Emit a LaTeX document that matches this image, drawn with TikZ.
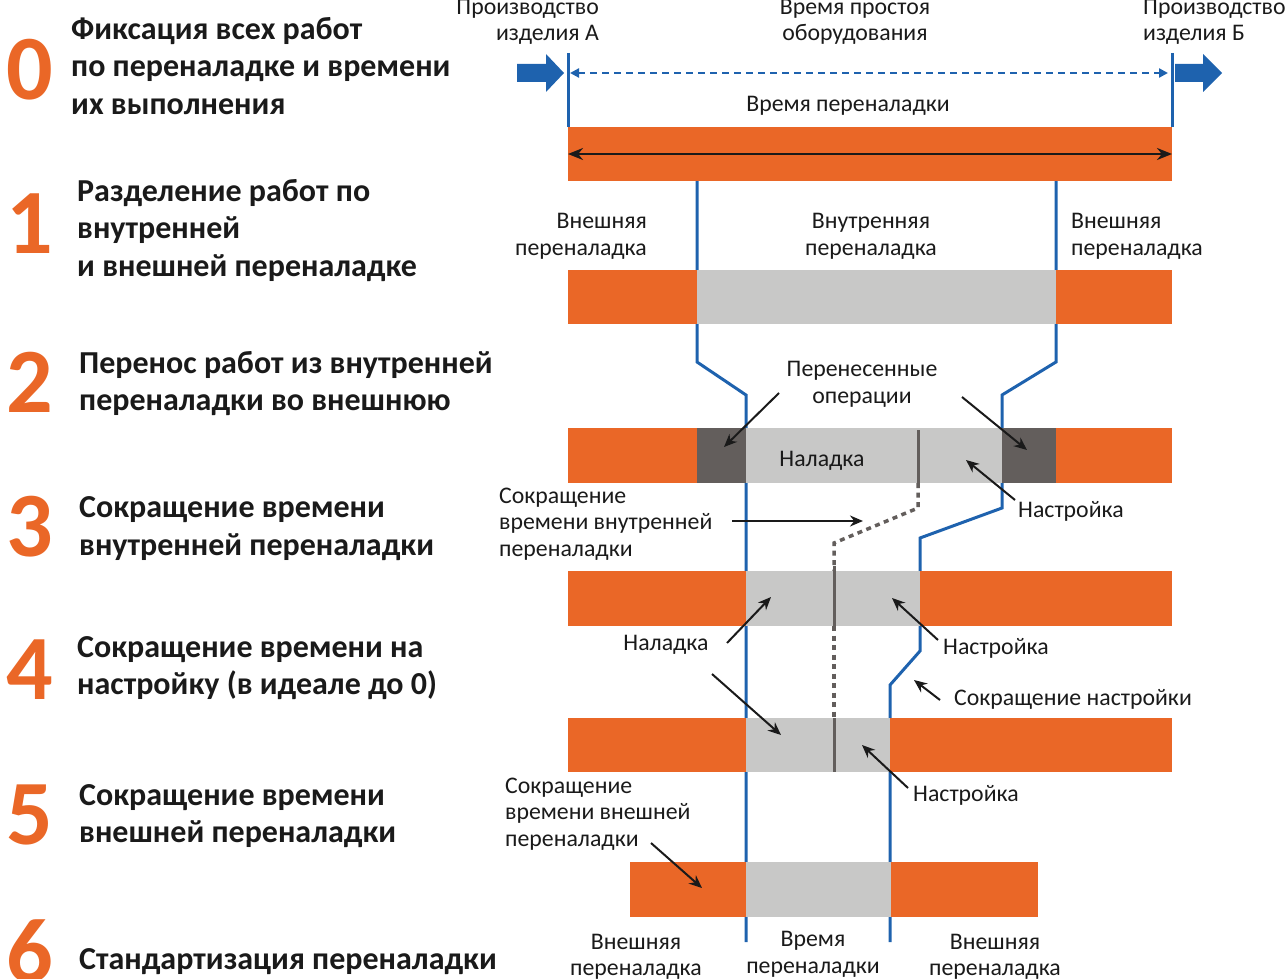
\documentclass[tikz,border=0pt]{standalone}
\usepackage{fontspec}
\setmainfont{Carlito}
\usetikzlibrary{arrows.meta}
\definecolor{org}{RGB}{234,103,39}
\definecolor{lgr}{RGB}{200,200,199}
\definecolor{dgr}{RGB}{99,94,92}
\definecolor{blu}{RGB}{30,98,174}
\definecolor{txt}{RGB}{26,26,26}
\begin{document}
\begin{tikzpicture}[x=1pt,y=-1pt,
  lbl/.style={font=\fontsize{23.8}{26.5}\selectfont, align=center, inner sep=0, text=txt},
  lbll/.style={lbl, align=left, anchor=west},
  lblr/.style={lbl, align=right, anchor=east},
  steptxt/.style={font=\fontsize{32}{37.5}\selectfont\bfseries, align=left, anchor=west, inner sep=0, text=txt},
  num/.style={font=\fontsize{92}{92}\selectfont\bfseries, text=org, inner sep=0},
  bline/.style={draw=blu, line width=3pt},
  ptr/.style={-{Stealth[length=13pt,width=11pt]}, line width=2pt, draw=txt},
  dotl/.style={draw=dgr, line width=3.5pt, dash pattern=on 5pt off 4.5pt},
  barO/.style={fill=org},
  barL/.style={fill=lgr},
  barD/.style={fill=dgr}]
\useasboundingbox (0,0) rectangle (1288,979);

% ---------- steps ----------
\node[num] (n0) at (30,70) {0};
\node[num] (n1) at (30,224) {1};
\node[num] (n2) at (30,382) {2};
\node[num] (n3) at (30,527) {3};
\node[num] (n4) at (30,670) {4};
\node[num] (n5) at (30,815) {5};
\node[num] (n6) at (30,951) {6};
\node[steptxt] (s0) at (71,66) {Фиксация всех работ\\по переналадке и времени\\их выполнения};
\node[steptxt] (s1) at (77,230.5) {Разделение работ по\\внутренней\\и внешней переналадке};
\node[steptxt] (s2) at (79,383.5) {Перенос работ из внутренней\\переналадки во внешнюю};
\node[steptxt] (s3) at (79,528.5) {Сокращение времени\\внутренней переналадки};
\node[steptxt] (s4) at (77,668) {Сокращение времени на\\настройку (в идеале до 0)};
\node[steptxt] (s5) at (79,816) {Сокращение времени\\внешней переналадки};
\node[steptxt] (s6) at (79,962) {Стандартизация переналадки};

% ---------- top ----------
\node[lblr] (prodA) at (599,22) {Производство\\изделия А};
\node[lbl] (idle) at (855,22) {Время простоя\\оборудования};
\node[lbll] (prodB) at (1143,22) {Производство\\изделия Б};
\node[lbl] (chtime) at (848,106) {Время переналадки};

\fill[blu] (517,64) -- (546,64) -- (546,54) -- (564,73) -- (546,92) -- (546,82) -- (517,82) -- cycle;
\fill[blu] (1175,64) -- (1203,64) -- (1203,54) -- (1222,73) -- (1203,92) -- (1203,82) -- (1175,82) -- cycle;
\coordinate (tl) at (568,53);
\coordinate (tr) at (1172,53);
\coordinate (tlb) at (568,127);
\coordinate (trb) at (1172,127);
\draw[bline] (tl) -- (tlb);
\draw[bline] (tr) -- (trb);
\coordinate (da) at (570,73);
\coordinate (db) at (1168,73);
\draw[draw=blu, line width=2.2pt, dash pattern=on 7pt off 5pt, {Triangle[length=9pt,width=9pt]}-{Triangle[length=9pt,width=9pt]}] (da) -- (db);

% ---------- blue boundary lines (behind bars) ----------
\coordinate (l0) at (697,181);
\coordinate (l1) at (697,362);
\coordinate (l2) at (746,395);
\coordinate (l3) at (746,942);
\draw[bline, line join=miter] (l0) -- (l1) -- (l2) -- (l3);
\coordinate (r0) at (1056,181);
\coordinate (r1) at (1056,362);
\coordinate (r2) at (1002,395);
\coordinate (r3) at (1002,508);
\coordinate (r4) at (920,538);
\coordinate (r5) at (920,651);
\coordinate (r6) at (890,685);
\coordinate (r7) at (890,942);
\draw[bline, line join=miter] (r0) -- (r1) -- (r2) -- (r3) -- (r4) -- (r5) -- (r6) -- (r7);

% ---------- dotted line ----------
\coordinate (d0) at (918,483);
\coordinate (d1) at (918,508);
\coordinate (d2) at (834,543);
\coordinate (d3) at (834,571);
\coordinate (d4) at (834,626);
\coordinate (d5) at (834,718);
\draw[dotl] (d0) -- (d1) -- (d2) -- (d3);
\draw[dotl] (d4) -- (d5);

% ---------- bars ----------
\fill[barO] (568,127) rectangle (1172,181);
\coordinate (ba) at (568,154);
\coordinate (bb) at (1172,154);
\draw[{Stealth[length=15pt,width=12pt]}-{Stealth[length=15pt,width=12pt]}, line width=2.3pt, draw=txt] (ba) -- (bb);

\fill[barO] (568,270) rectangle (697,324);
\fill[barL] (697,270) rectangle (1056,324);
\fill[barO] (1056,270) rectangle (1172,324);

\fill[barO] (568,428) rectangle (697,483);
\fill[barD] (697,428) rectangle (746,483);
\fill[barL] (746,428) rectangle (1002,483);
\fill[barD] (1002,428) rectangle (1056,483);
\fill[barO] (1056,428) rectangle (1172,483);
\draw[draw=dgr, line width=3pt] (918,430) -- (d0);

\fill[barO] (568,571) rectangle (746,626);
\fill[barL] (746,571) rectangle (920,626);
\fill[barO] (920,571) rectangle (1172,626);
\draw[draw=dgr, line width=3pt] (834,566) -- (d4);

\fill[barO] (568,718) rectangle (746,772);
\fill[barL] (746,718) rectangle (890,772);
\fill[barO] (890,718) rectangle (1172,772);
\draw[draw=dgr, line width=3pt] (d5) -- (834,772);

\fill[barO] (630,862) rectangle (746,917);
\fill[barL] (746,862) rectangle (891,917);
\fill[barO] (891,862) rectangle (1038,917);

% ---------- labels ----------
\node[lblr] (ext1) at (647,236.5) {Внешняя\\переналадка};
\node[lbl] (int1) at (871,236.5) {Внутренняя\\переналадка};
\node[lbll] (ext2) at (1071,236.5) {Внешняя\\переналадка};

\node[lbl] (moved) at (862,384.5) {Перенесенные\\операции};
\node[lbl] (nal2) at (822,461) {Наладка};
\node[lbll] (nas2) at (1018,511) {Настройка};
\node[lbll] (redint) at (499,524) {Сокращение\\времени внутренней\\переналадки};
\node[lbl] (nal3) at (666,645) {Наладка};
\node[lbll] (nas3) at (943,648) {Настройка};
\node[lbll] (rednas) at (954,699) {Сокращение настройки};
\node[lbll] (nas4) at (913,795) {Настройка};
\node[lbll] (redext) at (505,814) {Сокращение\\времени внешней\\переналадки};

\node[lbl] (ext3) at (636,957) {Внешняя\\переналадка};
\node[lbl] (time3) at (813,954.5) {Время\\переналадки};
\node[lbl] (ext4) at (995,957) {Внешняя\\переналадка};

% ---------- pointer arrows ----------
\coordinate (m1a) at (779,393); \coordinate (m1b) at (724,447);
\coordinate (m2a) at (962,397); \coordinate (m2b) at (1027,450);
\coordinate (n2a) at (1015,500); \coordinate (n2b) at (966,460);
\coordinate (ria) at (732,521); \coordinate (rib) at (863,521);
\coordinate (l3a) at (727,643); \coordinate (l3b) at (771,597);
\coordinate (s3a) at (938,640); \coordinate (s3b) at (892,598);
\coordinate (rna) at (940,700); \coordinate (rnb) at (914,680);
\coordinate (l4a) at (712,674); \coordinate (l4b) at (781,735);
\coordinate (s4a) at (908,788); \coordinate (s4b) at (862,745);
\coordinate (rea) at (651,843); \coordinate (reb) at (702,888);
\draw[ptr] (m1a) -- (m1b);
\draw[ptr] (m2a) -- (m2b);
\draw[ptr] (n2a) -- (n2b);
\draw[ptr] (ria) -- (rib);
\draw[ptr] (l3a) -- (l3b);
\draw[ptr] (s3a) -- (s3b);
\draw[ptr] (rna) -- (rnb);
\draw[ptr] (l4a) -- (l4b);
\draw[ptr] (s4a) -- (s4b);
\draw[ptr] (rea) -- (reb);
\end{tikzpicture}
\end{document}
